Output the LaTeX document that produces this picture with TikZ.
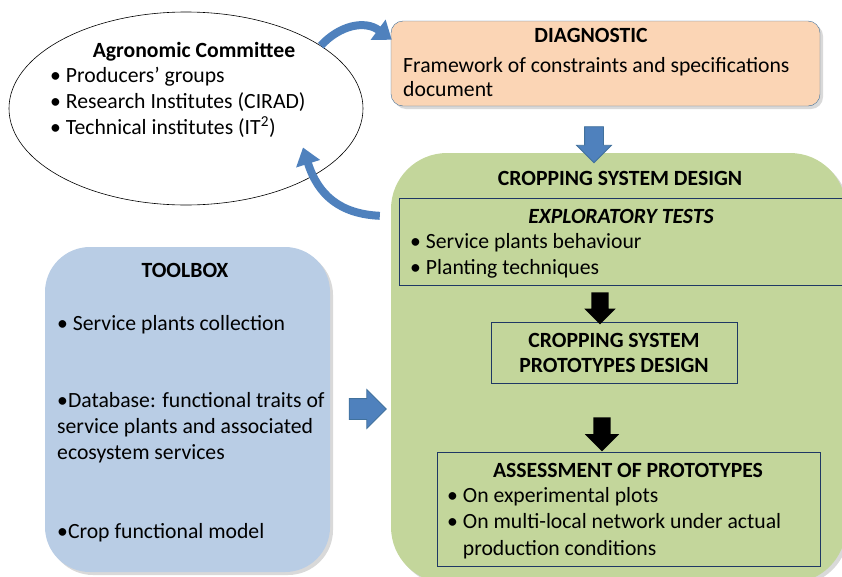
\documentclass[tikz,border=0pt]{standalone}
\usepackage{fontspec}
\setmainfont{Carlito}
\usetikzlibrary{shapes.geometric,shapes.arrows,shadows,calc,arrows.meta}

\definecolor{peach}{HTML}{FBD5B5}
\definecolor{sage}{HTML}{C3D69B}
\definecolor{toolblue}{HTML}{B9CDE5}
\definecolor{arrowblue}{HTML}{4F81BD}
\definecolor{edgeblue}{HTML}{41719C}
\definecolor{boxnavy}{HTML}{1F3864}

\tikzset{
  panel/.style={rounded corners=#1, inner sep=0pt, drop shadow={opacity=0.3, shadow xshift=3pt, shadow yshift=-3pt}},
  framebox/.style={draw=boxnavy, line width=1pt, inner sep=0pt},
  txt/.style={inner sep=0pt, anchor=base west, align=left},
  ttl/.style={inner sep=0pt, anchor=base, font=\fontsize{21.7}{26}\selectfont\bfseries},
  bluearrow/.style={single arrow, fill=arrowblue, draw=edgeblue, line width=0.8pt, inner xsep=0pt},
  blackarrow/.style={single arrow, fill=black, inner xsep=0pt},
  curvearrow/.style={draw=arrowblue, line width=8pt, -{Triangle[length=17pt, width=24pt]}}
}

\begin{document}
\begin{tikzpicture}[x=1pt, y=-1pt, font=\fontsize{21.7}{26}\selectfont]
\useasboundingbox (0,0) rectangle (842,576);
\clip (0,0) rectangle (842,576);

\node[draw, ellipse, line width=0.6pt, minimum width=354, minimum height=193] (committee) at (186,108.5) {};
\node[panel=12pt, fill=peach, draw=edgeblue, minimum width=429, minimum height=85] (diag) at (605.5,63.5) {};
\node[panel=56pt, fill=sage, minimum width=455, minimum height=430] (design) at (618.5,368) {};
\node[panel=45pt, fill=toolblue, minimum width=285, minimum height=325] (toolbox) at (187.5,409.5) {};
\node[framebox, minimum width=451, minimum height=87] (explor) at (624.5,241.5) {};
\node[framebox, minimum width=246, minimum height=61] (proto) at (614,352.5) {};
\node[framebox, minimum width=383, minimum height=114] (assess) at (628.5,509) {};

\node[ttl] (comtitle) at (194,57) {Agronomic Committee};
\node[txt] (comlist) at (50,134) {• Producers’ groups\\• Research Institutes (CIRAD)\\• Technical institutes (IT\textsuperscript{2})};
\node[ttl] (diagtitle) at (591,42) {DIAGNOSTIC};
\node[txt] (diagtext) at (403,96) {Framework of constraints and specifications\\[-2pt]document};
\node[ttl] (designtitle) at (620,185) {CROPPING SYSTEM DESIGN};
\node[ttl, font=\fontsize{21.7}{26}\selectfont\bfseries\itshape] (explortitle) at (621,223) {EXPLORATORY TESTS};
\node[txt] (explorlist) at (410,274) {• Service plants behaviour\\• Planting techniques};
\node[ttl, align=center] (prototitle) at (614,372) {CROPPING SYSTEM\\[-1pt]PROTOTYPES DESIGN};
\node[ttl] (assesstitle) at (628,477) {ASSESSMENT OF PROTOTYPES};
\node[txt] (assesslist) at (447,555) {• On experimental plots\\• On multi-local network under actual\\[1pt]\phantom{• }production conditions};
\node[ttl] (tooltitle) at (185,277) {TOOLBOX};
\node[txt] (toolone) at (57,330) {• Service plants collection};
\node[txt] (tooltwo) at (57,459) {•Database: functional traits of\\service plants and associated\\ecosystem services};
\node[txt] (toolthree) at (57,538) {•Crop functional model};

\node[bluearrow, minimum height=36, inner ysep=9pt, single arrow head extend=8pt, rotate=-90] (diagarrow) at (594,140) {};
\node[bluearrow, minimum height=37, inner ysep=10pt, single arrow head extend=9pt] (toolarrow) at (362.5,409) {};
\node[blackarrow, minimum height=32, inner ysep=8.5pt, single arrow head extend=7pt, rotate=-90] (explorarrow) at (600,304) {};
\node[blackarrow, minimum height=34, inner ysep=8.5pt, single arrow head extend=8.5pt, rotate=-90] (protoarrow) at (602,430) {};

\coordinate (diagin) at ($(diag.north west)+(1,19)$);
\coordinate (comin) at ($(committee.center)+(117,39)$);
\coordinate (designout) at ($(design.north west)+(-11,63)$);
\draw[curvearrow] (committee.25) .. controls (340,25) and (365,20) .. (diagin);
\draw[curvearrow] (designout) .. controls (340,214) and (318,195) .. (comin);
\end{tikzpicture}
\end{document}
